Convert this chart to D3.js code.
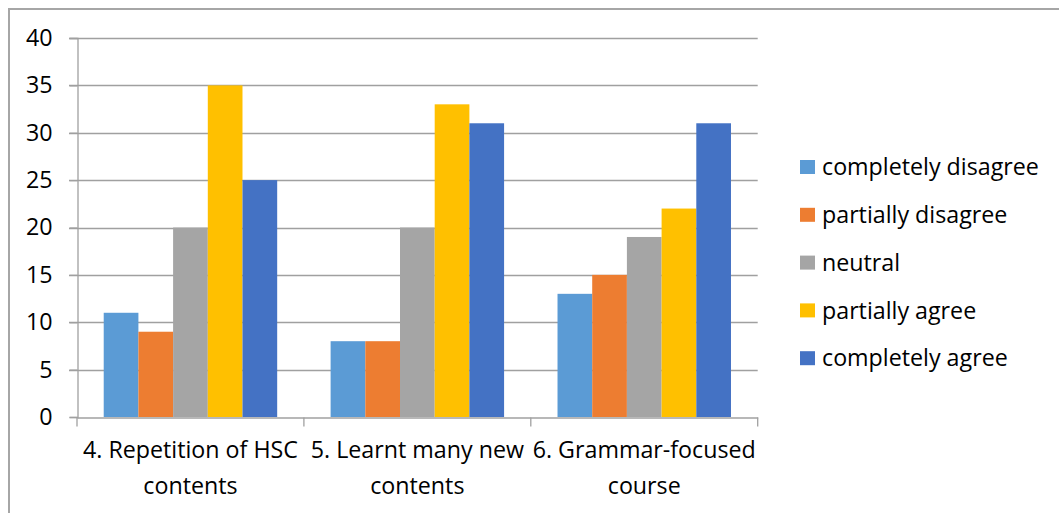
<!DOCTYPE html>
<html>
<head>
<meta charset="utf-8">
<script src="https://cdn.jsdelivr.net/npm/d3@7"></script>
<style>
  html, body { margin: 0; padding: 0; background: #fff; }
  svg { display: block; }
  text { font-family: "Open Sans", "Noto Sans", sans-serif; fill: #000; }
</style>
</head>
<body>
<svg id="chart" width="1059" height="513"></svg>
<script>
const categories = ["4. Repetition of HSC contents", "5. Learnt many new contents", "6. Grammar-focused course"];
const categoryLines = [["4. Repetition of HSC", "contents"], ["5. Learnt many new", "contents"], ["6. Grammar-focused", "course"]];
const seriesNames = ["completely disagree", "partially disagree", "neutral", "partially agree", "completely agree"];
const seriesColors = ["#5B9BD5", "#ED7D31", "#A5A5A5", "#FFC000", "#4472C4"];
const completelyDisagree = [11, 8, 13];
const partiallyDisagree = [9, 8, 15];
const neutral = [20, 20, 19];
const partiallyAgree = [35, 33, 22];
const completelyAgree = [25, 31, 31];
const yTicks = [0, 5, 10, 15, 20, 25, 30, 35, 40];

const seriesValues = [completelyDisagree, partiallyDisagree, neutral, partiallyAgree, completelyAgree];

const svg = d3.select("#chart");
const FONT = "\"Open Sans\", \"Noto Sans\", sans-serif";

// determine font size so legend text width fits the reference
const probe = svg.append("text").attr("font-size", 100).attr("font-family", FONT).text("completely disagree");
const pw = probe.node().getComputedTextLength();
probe.remove();
const fs = Math.min(26, 217 / pw * 100);

// outer border (left/top visible)
svg.append("path")
  .attr("d", "M9,513 L9,9 L1059,9")
  .attr("fill", "none").attr("stroke", "#a6a6a6").attr("stroke-width", 2);

const x0 = d3.scaleBand().domain(categories).range([77, 757.7]).paddingInner(0).paddingOuter(0);
const x1 = d3.scaleBand().domain(seriesNames).range([0, x0.bandwidth()]).paddingInner(0).paddingOuter(0.77);
const y = d3.scaleLinear().domain([0, 40]).range([417, 38]);

// gridlines
svg.append("g").selectAll("line").data(yTicks.filter(d => d > 0)).join("line")
  .attr("x1", 69).attr("x2", 757.7)
  .attr("y1", d => Math.round(y(d)) + 0.5).attr("y2", d => Math.round(y(d)) + 0.5)
  .attr("stroke", "#a0a0a0").attr("stroke-width", 1.3);

// bars
const groups = svg.append("g").selectAll("g").data(categories).join("g")
  .attr("transform", d => `translate(${x0(d)},0)`);
groups.selectAll("rect")
  .data((c, ci) => seriesNames.map((s, si) => ({ s, si, v: seriesValues[si][ci] })))
  .join("rect")
  .attr("x", d => x1(d.s))
  .attr("width", x1.bandwidth())
  .attr("y", d => y(d.v))
  .attr("height", d => y(0) - y(d.v))
  .attr("fill", d => seriesColors[d.si]);

// y axis
const yAxis = svg.append("g").attr("transform", "translate(77.5,0)")
  .call(d3.axisLeft(y).tickValues(yTicks).tickSize(8).tickPadding(17));
yAxis.select(".domain").attr("stroke", "#a0a0a0").attr("stroke-width", 1.3);
yAxis.selectAll(".tick line").attr("stroke", "#a0a0a0").attr("stroke-width", 1.3);
yAxis.selectAll(".tick text").attr("font-size", fs).attr("font-family", FONT).attr("fill", "#000");

// x axis
const xAxis = svg.append("g").attr("transform", `translate(0,${Math.round(y(0)) + 0.5})`)
  .call(d3.axisBottom(x0).tickSize(0).tickFormat(""));
xAxis.select(".domain").attr("stroke", "#a0a0a0").attr("stroke-width", 1.3);
const boundaries = categories.map(c => x0(c)).concat([x0(categories[categories.length - 1]) + x0.bandwidth()]);
xAxis.selectAll(".bound").data(boundaries).join("line").attr("class", "bound")
  .attr("x1", d => d).attr("x2", d => d).attr("y1", 0).attr("y2", 9)
  .attr("stroke", "#a0a0a0").attr("stroke-width", 1.3);

// category labels
const lab = svg.append("g").selectAll("text").data(categories).join("text")
  .attr("text-anchor", "middle")
  .attr("font-family", FONT)
  .attr("font-size", fs);
lab.each(function (c, i) {
  const t = d3.select(this);
  const cx = x0(c) + x0.bandwidth() / 2;
  categoryLines[i].forEach((ln, li) => {
    t.append("tspan").attr("x", cx).attr("y", 458 + li * 36).text(ln);
  });
});

// legend
const legend = svg.append("g").selectAll("g").data(seriesNames).join("g")
  .attr("transform", (d, i) => `translate(800,${167 + i * 47.8})`);
legend.append("rect").attr("x", 0).attr("y", -7).attr("width", 15).attr("height", 14)
  .attr("fill", (d, i) => seriesColors[i]);
legend.append("text").attr("x", 22).attr("y", 0).attr("dy", "0.35em")
  .attr("font-family", FONT)
  .attr("font-size", fs).text(d => d);
</script>
</body>
</html>
